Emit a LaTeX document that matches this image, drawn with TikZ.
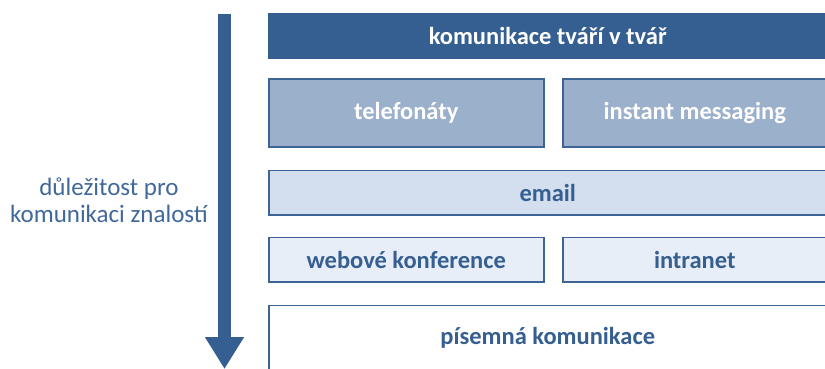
\documentclass[tikz,border=0pt]{standalone}
\usepackage{fontspec}
\setmainfont{Carlito}
\usepackage{tikz}
\usetikzlibrary{arrows.meta, positioning}
\definecolor{deepblue}{RGB}{54, 95, 145}
\definecolor{edgeblue}{RGB}{62, 100, 150}
\definecolor{midblue}{RGB}{155, 176, 203}
\definecolor{paleblue}{RGB}{211, 223, 238}
\definecolor{mistblue}{RGB}{232, 238, 247}
\definecolor{labelblue}{RGB}{64, 104, 154}
\tikzset{
    layerbox/.style={draw=edgeblue, line width=1.5pt, rectangle, inner sep=0pt, font=\fontsize{24.5}{29}\selectfont\bfseries, align=center},
    topbox/.style={layerbox, draw=deepblue, fill=deepblue, text=white},
    midbox/.style={layerbox, fill=midblue, text=white},
    palebox/.style={layerbox, fill=paleblue, text=deepblue},
    mistbox/.style={layerbox, fill=mistblue, text=deepblue},
    plainbox/.style={layerbox, fill=white, text=deepblue},
    rankarrow/.style={line width=13pt, draw=deepblue, -{Triangle[width=37pt, length=32pt]}},
}

\begin{document}
\begin{tikzpicture}[x=1pt, y=-1pt]
    \useasboundingbox (0,0) rectangle (825,369);

    \node[topbox, minimum width=558pt, minimum height=44.5pt, anchor=north west] (face) at (268,13)
          {komunikace tváří v tvář};
    \node[midbox, minimum width=275pt, minimum height=67.5pt, below=19.5pt of face.south west, anchor=north west] (phone)
          {telefonáty};
    \node[midbox, minimum width=264pt, minimum height=67.5pt, right=17.5pt of phone] (instant)
          {instant messaging};
    \node[palebox, minimum width=558pt, minimum height=44.5pt, below=22pt of phone.south west, anchor=north west] (mail)
          {email};
    \node[mistbox, minimum width=275pt, minimum height=44.5pt, below=21pt of mail.south west, anchor=north west] (webconf)
          {webové konference};
    \node[mistbox, minimum width=264pt, minimum height=44.5pt, right=17.5pt of webconf] (intra)
          {intranet};
    \node[plainbox, minimum width=558pt, minimum height=80pt, below=22pt of webconf.south west, anchor=north west] (letter)
          {\raisebox{19.5pt}{písemná komunikace}};

    % importance arrow
    \coordinate (arrtop) at (224.5,14);
    \coordinate (arrtip) at (224.5,369);
    \draw[rankarrow] (arrtop) -- (arrtip);

    \node[font=\fontsize{25}{27}\selectfont, text=labelblue, align=center] (lbl) at (109,200)
          {důležitost pro\\komunikaci znalostí};
\end{tikzpicture}
\end{document}
